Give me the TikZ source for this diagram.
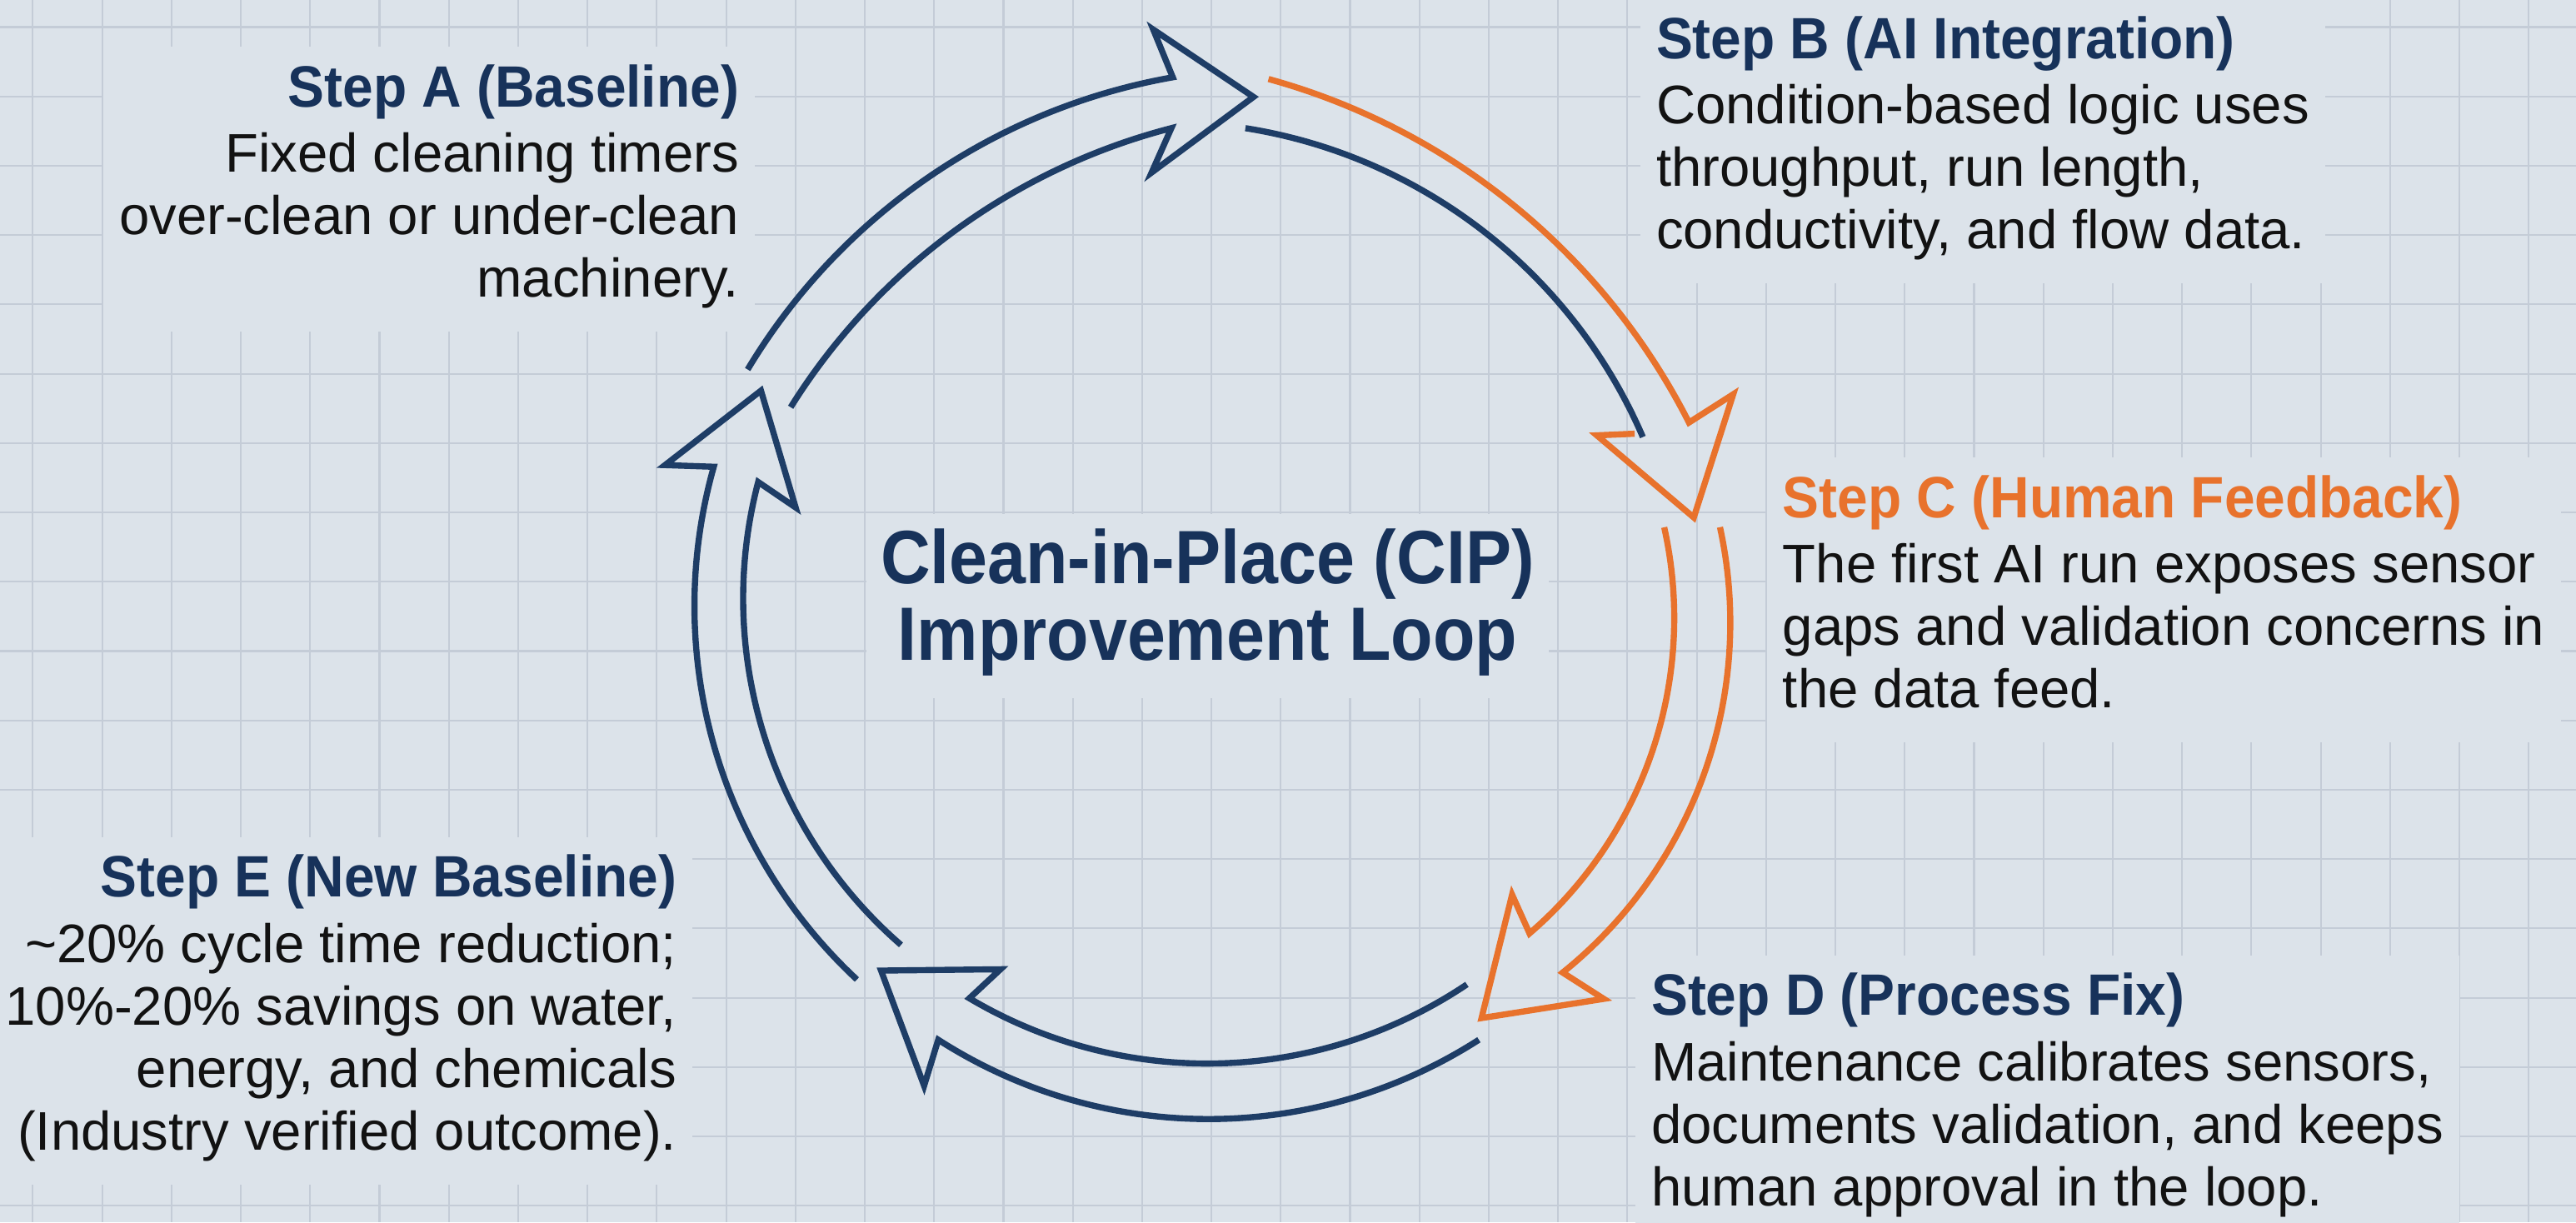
\documentclass[tikz,border=0pt]{standalone}
\usepackage{fontspec}
\setmainfont{Liberation Sans}
\newfontfamily\titlefont{Liberation Sans}[FakeStretch=0.91]
\newfontfamily\headfont{Liberation Sans}[FakeStretch=0.94]
\definecolor{bg}{HTML}{DCE3EA}
\definecolor{gridc}{HTML}{C4CCD7}
\definecolor{navy}{HTML}{1E3D66}
\definecolor{titlenavy}{HTML}{17325A}
\definecolor{orng}{HTML}{E8722C}
\definecolor{bodytxt}{HTML}{121212}
\newcommand\hd[1]{{\headfont\bfseries\color{titlenavy}\fontsize{19.92}{21.32}\selectfont #1}}
\newcommand\hdo[1]{{\headfont\bfseries\color{orng}\fontsize{19.92}{21.32}\selectfont #1}}
\begin{document}
\begin{tikzpicture}[x=0.019719cm, y=-0.019719cm,
  arrowline/.style={line width=2.1pt, line join=miter, miter limit=10, line cap=butt},
  navyarrow/.style={arrowline, draw=navy},
  orangearrow/.style={arrowline, draw=orng},
  gridline/.style={draw=gridc, line width=0.6pt},
  stepbox/.style={fill=bg, inner sep=5.5pt, text=bodytxt, font=\fontsize{18.57}{21.32}\selectfont},
  titlebox/.style={fill=bg, inner sep=5pt, text=titlenavy, font=\titlefont\bfseries\fontsize{25.81}{26.37}\selectfont}
  ]
\fill[bg] (0,0) rectangle (1568,744);
\useasboundingbox (0,0) rectangle (1568,744);
% grid
\foreach \i in {0,...,36} \draw[gridline] ({20+42.2*\i},0) -- ({20+42.2*\i},744);
\foreach \j in {0,...,17} \draw[gridline] (0,{16.5+42.2*\j}) -- (1568,{16.5+42.2*\j});

% text blocks
\node[stepbox, anchor=base east] (stepA) at (460,65) {\begin{tabular}[t]{@{}r@{}}\hd{Step A (Baseline)}\\[1pt]
Fixed cleaning timers\\ over-clean or under-clean\\ machinery.\end{tabular}};
\node[stepbox, anchor=base west] (stepB) at (998,35.5) {\begin{tabular}[t]{@{}l@{}}\hd{Step B (AI Integration)}\\[1pt]
Condition-based logic uses\\ throughput, run length,\\ conductivity, and flow data.\end{tabular}};
\node[stepbox, anchor=base west] (stepC) at (1075,315) {\begin{tabular}[t]{@{}l@{}}\hdo{Step C (Human Feedback)}\\[1pt]
The first AI run exposes sensor\\ gaps and validation concerns in\\ the data feed.\end{tabular}};
\node[stepbox, anchor=base west] (stepD) at (995,618) {\begin{tabular}[t]{@{}l@{}}\hd{Step D (Process Fix)}\\[1pt]
Maintenance calibrates sensors,\\ documents validation, and keeps\\ human approval in the loop.\end{tabular}};
\node[stepbox, anchor=base east] (stepE) at (422,546) {\begin{tabular}[t]{@{}r@{}}\hd{Step E (New Baseline)}\\[1pt]
\textasciitilde20\% cycle time reduction;\\ 10\%-20\% savings on water,\\ energy, and chemicals\\ (Industry verified outcome).\end{tabular}};
\node[titlebox, anchor=base] (title) at (735,355) {\begin{tabular}[t]{@{}c@{}}Clean-in-Place (CIP)\\ Improvement Loop\end{tabular}};

% A -> B
\draw[navyarrow] (779.6,419.9) ++(211.0:378.6) arc[start angle=211.0, end angle=260.0, radius=378.6]
  -- (702,18) -- (763,59) -- (701,105) -- (713,78) arc[start angle=255.5, end angle=212.0, radius=387.7];
% B -> C
\draw[navyarrow] (708.4,391.6) ++(-81.0:317.5) arc[start angle=-81.0, end angle=-23.3, radius=317.5];
\draw[orangearrow] (663.6,442.1) ++(-74.6:408.7) arc[start angle=-74.6, end angle=-26.9, radius=408.7]
  -- (1055,240) -- (1031,315) -- (972,265) -- (995,264);
% C -> D
\draw[orangearrow] (765.9,376.2) ++(-12.6:253.2) arc[start angle=-12.6, end angle=49.3, radius=253.2]
  -- (920.4,544.6) -- (901.8,619.7) -- (976.2,608) -- (951.2,592) arc[start angle=51.2, end angle=-12.3, radius=273.2];
% D -> E
\draw[navyarrow] (734.8,363.9) ++(56.1:283.5) arc[start angle=56.1, end angle=120.7, radius=283.5]
  -- (609,590) -- (536.3,590.8) -- (562.5,660.9) -- (571.1,632.9) arc[start angle=122.7, end angle=57.3, radius=304.6];
% E -> A
\draw[navyarrow] (733.7,368.8) ++(133.0:311) arc[start angle=133.0, end angle=195.8, radius=311]
  -- (404.8,283.1) -- (463.2,237.8) -- (484.3,308.9) -- (461.5,293.4) arc[start angle=194.7, end angle=131.0, radius=279.4];
\end{tikzpicture}
\end{document}
